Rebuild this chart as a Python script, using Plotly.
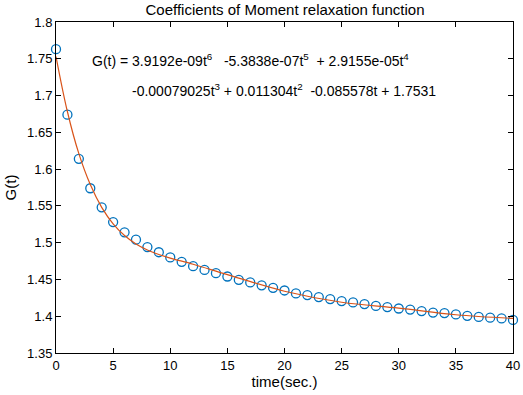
import plotly.graph_objects as go

# measured data (circles)
t_data = list(range(0, 41))
g_data = [1.763, 1.674, 1.614, 1.574, 1.548, 1.528, 1.514, 1.504, 1.494, 1.487,
          1.480, 1.474, 1.468, 1.463, 1.4585, 1.454, 1.4495, 1.446, 1.442, 1.4386,
          1.435, 1.431, 1.4287, 1.426, 1.4233, 1.4206, 1.4187, 1.4165, 1.414, 1.4124,
          1.4105, 1.409, 1.407, 1.405, 1.4043, 1.4024, 1.4006, 1.399, 1.398, 1.397,
          1.395]

# fitted curve values
t_fit = [0, 1, 2, 3, 4, 5, 6, 7, 8, 9, 10, 12, 15, 20, 25, 30, 35, 40]
g_fit = [1.7531, 1.678, 1.621, 1.579, 1.548, 1.5256, 1.5097, 1.4983, 1.4901, 1.484,
         1.479, 1.4707, 1.4565, 1.434, 1.419, 1.4110, 1.402, 1.397]

x_ticks = [0, 5, 10, 15, 20, 25, 30, 35, 40]
y_ticks = [1.35, 1.4, 1.45, 1.5, 1.55, 1.6, 1.65, 1.7, 1.75, 1.8]

FONT = "Liberation Sans, Arial, sans-serif"

fig = go.Figure()
fig.add_trace(go.Scatter(x=t_data, y=g_data, mode="markers",
                         marker=dict(symbol="circle-open", size=9, color="#0072BD",
                                     line=dict(width=1.3, color="#0072BD")),
                         showlegend=False, cliponaxis=False))
fig.add_trace(go.Scatter(x=t_fit, y=g_fit, mode="lines", line_shape="spline",
                         line=dict(color="#D95319", width=1.2), showlegend=False))

fig.add_annotation(x=3.0, y=1.748, xref="x", yref="y", xanchor="left", yanchor="middle",
                   showarrow=False,
                   text="G(t) = 3.9192e-09t<sup>6</sup>&nbsp;&nbsp;&nbsp;-5.3838e-07t<sup>5</sup>&nbsp;&nbsp;+ 2.9155e-05t<sup>4</sup>",
                   font=dict(family=FONT, size=14, color="black"))
fig.add_annotation(x=6.5, y=1.707, xref="x", yref="y", xanchor="left", yanchor="middle",
                   showarrow=False,
                   text="-0.00079025t<sup>3</sup> + 0.011304t<sup>2</sup>&nbsp;&nbsp;-0.085578t + 1.7531",
                   font=dict(family=FONT, size=14, color="black"))

axis_common = dict(showline=True, linecolor="black", linewidth=1, mirror="ticks",
                   ticks="inside", ticklen=5, tickcolor="black", showgrid=False,
                   zeroline=False, automargin=False,
                   tickfont=dict(family=FONT, size=13, color="black"))

fig.update_layout(
    width=523, height=395,
    margin=dict(l=56, r=10, t=22, b=42),
    paper_bgcolor="white", plot_bgcolor="white",
    title=dict(text="Coefficients of Moment relaxation function", x=0.545,
               xref="container", xanchor="center", y=0.975, yanchor="middle",
               font=dict(family=FONT, size=15, color="black")),
    xaxis=dict(range=[0, 40], tickvals=x_ticks,
               title=dict(text="time(sec.)", standoff=2,
                          font=dict(family=FONT, size=15, color="black")),
               **axis_common),
    yaxis=dict(range=[1.35, 1.8], tickvals=y_ticks,
               ticktext=[("%g" % v) for v in y_ticks],
               title=dict(text="G(t)", standoff=6,
                          font=dict(family=FONT, size=15, color="black")),
               **axis_common),
)

fig.write_html("out.html", config={"displayModeBar": False},
               post_script="document.body.style.margin='0px';")
